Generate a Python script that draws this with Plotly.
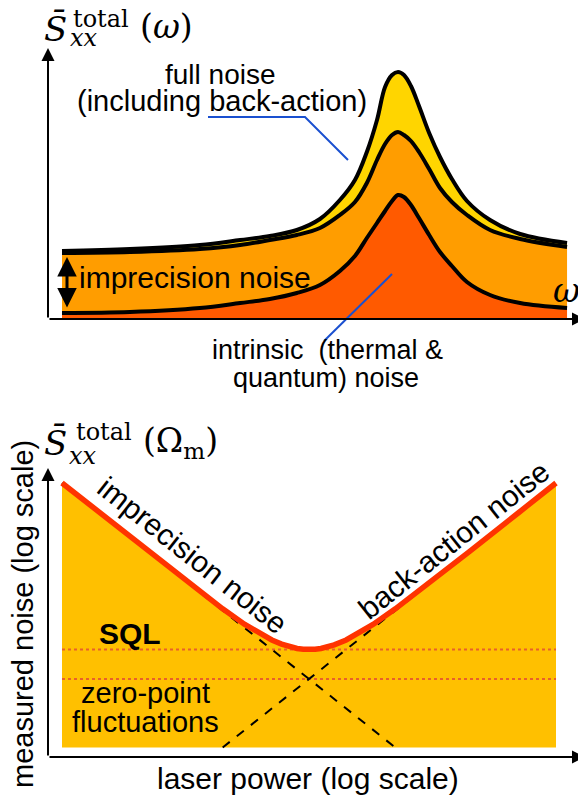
import plotly.graph_objects as go

# page size of the screenshot; the html body adds an 8 px margin around the figure
W, H = 586, 802
OFF = 8
FW, FH = W - OFF, H - OFF

# top panel: spectrum vs omega (arbitrary units, peak at omega = 1)
omega = [0.040, 0.234, 0.434, 0.549, 0.634, 0.711, 0.777, 0.834, 0.877, 0.911, 0.940, 0.963,
         0.983, 1.000, 1.017, 1.037, 1.060, 1.089, 1.120, 1.154, 1.197, 1.263, 1.349, 1.483]
s_full = [0.67, 0.69, 0.73, 0.78, 0.82, 0.88, 0.99, 1.18, 1.38, 1.66, 1.98, 2.31,
          2.43, 2.46, 2.43, 2.32, 2.12, 1.85, 1.61, 1.39, 1.17, 0.98, 0.84, 0.75]
s_imprec = [0.65, 0.66, 0.69, 0.73, 0.78, 0.83, 0.90, 1.03, 1.16, 1.35, 1.58, 1.74,
            1.83, 1.86, 1.83, 1.77, 1.66, 1.49, 1.30, 1.16, 1.03, 0.88, 0.79, 0.71]
s_intrinsic = [0.05, 0.06, 0.10, 0.15, 0.19, 0.25, 0.33, 0.47, 0.62, 0.80, 0.95, 1.07,
               1.17, 1.23, 1.21, 1.13, 1.00, 0.83, 0.66, 0.52, 0.36, 0.23, 0.15, 0.10]

# bottom panel: noise at the mechanical frequency vs laser power (log-log)
power = [0.01, 0.02, 0.05, 0.1, 0.2, 0.3, 0.4, 0.5, 0.6, 0.7, 0.8, 0.9, 1.0,
         1.12, 1.25, 1.4, 1.6, 2.0, 2.5, 3.3, 5.0, 10, 20, 50, 100]
noise_total = [100.01, 50.02, 20.05, 10.1, 5.2, 3.63, 2.9, 2.5, 2.27, 2.13, 2.05, 2.01, 2.0,
               2.01, 2.05, 2.11, 2.23, 2.5, 2.9, 3.6, 5.2, 10.1, 20.05, 50.02, 100.01]
imprec_p = [0.01, 5.0]
imprec_n = [100, 0.2]
backact_p = [0.2, 100]
backact_n = [0.2, 100]
sql_level = 2.0
zpf_level = 1.0
floor_level = 0.2
p_span = [0.01, 100]


def px(x):
    return (x - OFF) / FW


def py(y):
    return 1 - (y - OFF) / FH


fig = go.Figure()

# top panel traces
fig.add_trace(go.Scatter(x=omega, y=s_intrinsic, mode='lines', fill='tozeroy',
                         fillcolor='#ff5a00', line=dict(color='black', width=4, shape='spline'),
                         xaxis='x', yaxis='y'))
fig.add_trace(go.Scatter(x=omega, y=s_imprec, mode='lines', fill='tonexty',
                         fillcolor='#ff9d00', line=dict(color='black', width=4, shape='spline'),
                         xaxis='x', yaxis='y'))
fig.add_trace(go.Scatter(x=omega, y=s_full, mode='lines', fill='tonexty',
                         fillcolor='#ffd500', line=dict(color='black', width=4, shape='spline'),
                         xaxis='x', yaxis='y'))

# bottom panel traces
fig.add_trace(go.Scatter(x=p_span, y=[floor_level, floor_level], mode='lines',
                         line=dict(width=0, color='#ffc000'), xaxis='x2', yaxis='y2'))
fig.add_trace(go.Scatter(x=power, y=noise_total, mode='lines', fill='tonexty',
                         fillcolor='#ffc000', line=dict(width=0, color='#ffc000'),
                         xaxis='x2', yaxis='y2'))
for lvl in [sql_level, zpf_level]:
    fig.add_trace(go.Scatter(x=p_span, y=[lvl, lvl], mode='lines',
                             line=dict(color='#e8602a', width=2, dash='dot'),
                             xaxis='x2', yaxis='y2'))
fig.add_trace(go.Scatter(x=imprec_p, y=imprec_n, mode='lines',
                         line=dict(color='black', width=2, dash='dash'), xaxis='x2', yaxis='y2'))
fig.add_trace(go.Scatter(x=backact_p, y=backact_n, mode='lines',
                         line=dict(color='black', width=2, dash='dash'), xaxis='x2', yaxis='y2'))
fig.add_trace(go.Scatter(x=power, y=noise_total, mode='lines',
                         line=dict(color='#ff3300', width=5.5), xaxis='x2', yaxis='y2'))

sans = 'Liberation Sans, Arial, sans-serif'
serif = 'DejaVu Serif, Liberation Serif, serif'

ann = []


def text(x, y, s, size=28, family=sans, angle=0):
    ann.append(dict(x=px(x), y=py(y), xref='paper', yref='paper', text=s, showarrow=False,
                    font=dict(family=family, size=size, color='black'), textangle=angle,
                    xanchor='center', yanchor='middle'))


def arrow(x, y, ax, ay, both=False, width=2):
    ann.append(dict(x=px(x), y=py(y), xref='paper', yref='paper', axref='pixel', ayref='pixel',
                    ax=ax, ay=ay, text='', showarrow=True, arrowhead=2, arrowsize=1.3,
                    arrowwidth=width, arrowcolor='black', standoff=0,
                    arrowside='end+start' if both else 'end', startarrowhead=2,
                    startarrowsize=1.3, startstandoff=0))


# top panel
arrow(48, 48, 0, 271)
arrow(585, 319, -537, 0)
arrow(67, 257, 0, 52, both=True, width=3)
text(55, 29, '<i>S̄</i>', 34, serif)
text(101, 19, 'total', 24, serif)
text(84, 38, '<i>xx</i>', 24, serif)
text(166, 27, '(<i>ω</i>)', 33, serif)
text(566, 290, '<i>ω</i>', 33, serif)
text(220, 75, 'full noise')
text(222, 101, '(including back-action)', 29)
text(195, 277, 'imprecision noise', 30)
text(327, 350, 'intrinsic  (thermal &amp;', 27)
text(326, 378, 'quantum) noise', 27)

# bottom panel
arrow(48, 468, 0, 289)
arrow(585, 757, -537, 0)
text(55, 443, '<i>S̄</i>', 34, serif)
text(104, 432, 'total', 24, serif)
text(83, 456, '<i>xx</i>', 24, serif)
text(180, 442, '(Ω<sub>m</sub>)', 33, serif)
text(23, 614, 'measured noise (log scale)', 29, sans, -90)
text(308, 778, 'laser power (log scale)', 30)
text(193, 555, 'imprecision noise', 30, sans, 38.4)
text(453, 540, 'back-action noise', 30, sans, -38.4)
text(130, 633, '<b>SQL</b>', 30)
text(145, 693, 'zero-point', 29)
text(145, 722, 'fluctuations', 29)

blue = dict(color='#1a50d0', width=2)
shapes = [
    dict(type='path', xref='paper', yref='paper', line=blue,
         path='M %f,%f L %f,%f L %f,%f' % (px(208), py(117), px(305), py(117), px(348), py(160))),
    dict(type='line', xref='paper', yref='paper', line=blue,
         x0=px(392), y0=py(274), x1=px(324), y1=py(341)),
]

fig.update_layout(
    width=FW, height=FH, margin=dict(l=0, r=0, t=0, b=0),
    paper_bgcolor='white', plot_bgcolor='rgba(0,0,0,0)', showlegend=False,
    xaxis=dict(domain=[0, 1], range=[-40 / 350, 538 / 350], visible=False, anchor='y'),
    yaxis=dict(domain=[0, 1], range=[-4.84, 3.10], visible=False, anchor='x'),
    xaxis2=dict(domain=[0, 1], type='log', range=[-301 / 123.5, 277 / 123.5],
                visible=False, anchor='y2'),
    yaxis2=dict(domain=[0, 1], type='log', range=[-123 / 98, 671 / 98],
                visible=False, anchor='x2'),
    annotations=ann, shapes=shapes,
)

fig.write_html('out.html')
